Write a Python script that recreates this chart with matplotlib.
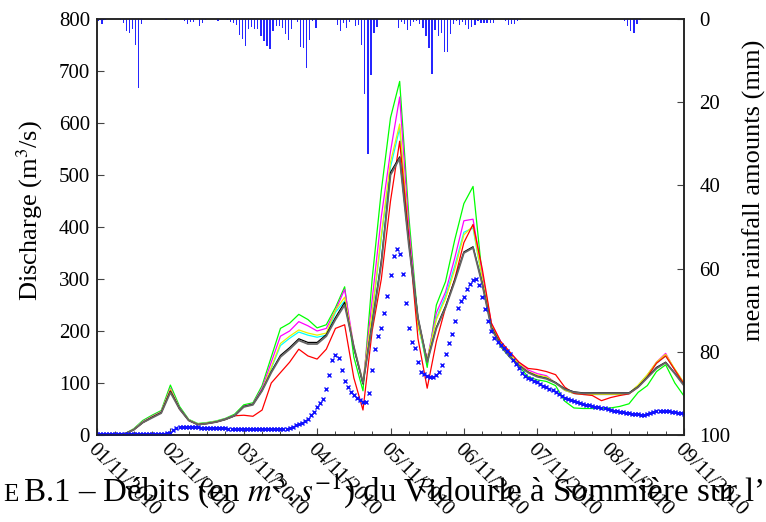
import matplotlib
matplotlib.use('Agg')
import matplotlib.pyplot as plt
import numpy as np

plt.rcParams['font.family'] = ['Liberation Serif', 'DejaVu Serif']
plt.rcParams['mathtext.fontset'] = 'stix'

# ---------------- data ----------------
date_labels = ['01/11/2010', '02/11/2010', '03/11/2010', '04/11/2010', '05/11/2010',
               '06/11/2010', '07/11/2010', '08/11/2010', '09/11/2010']

# hourly rainfall (hour index from 01/11/2010 00:00, mm)
rain_hours = [0, 1, 2, 7, 8, 9, 10, 11, 12, 13, 14,
              22, 28, 29, 30, 31, 33, 34, 35, 39, 42, 43, 44, 45, 46, 47,
              48, 49, 50, 51, 52, 53, 54, 55, 56, 57, 58, 59, 60, 61, 62, 63,
              64, 65, 66, 67, 68, 69, 70, 71, 78, 79, 80, 81, 82, 84, 85, 86,
              87, 88, 89, 90, 91, 98, 99, 100, 101, 102, 103, 104, 105, 106, 107,
              108, 109, 110, 111, 112, 113, 114, 115, 116, 117, 118, 119, 120, 121,
              122, 123, 124, 125, 126, 127, 128, 129, 133, 134, 135, 136, 137, 138,
              139, 172, 173, 174, 175, 176, 177]
rain_mm = [0.6, 1.2, 0.3, 0.3, 1.0, 2.8, 3.4, 2.5, 6.2, 16.5, 1.3,
           0.3, 0.5, 1.2, 0.8, 0.8, 1.7, 0.9, 0.3, 0.4, 0.3, 0.8, 1.0, 1.4, 3.8, 4.9,
           6.4, 2.4, 1.9, 2.4, 2.4, 4.2, 5.2, 6.6, 7.1, 3.0, 1.7, 1.7, 2.1, 3.7, 5.1, 2.3,
           0.3, 0.7, 6.7, 6.9, 11.7, 5.0, 0.4, 2.2, 1.4, 2.8, 1.0, 2.1, 0.7, 1.6, 1.4, 6.2,
           18.0, 32.5, 13.5, 3.3, 1.9, 2.2, 0.8, 1.2, 2.6, 1.8, 0.8, 0.6, 1.2, 2.2, 4.2,
           7.0, 13.2, 2.6, 4.0, 3.3, 8.0, 7.9, 3.6, 1.2, 0.6, 1.5, 0.8, 1.5, 2.3,
           1.9, 1.5, 0.6, 1.0, 1.0, 1.0, 1.0, 1.0, 0.4, 1.5, 1.2, 1.2, 0.6, 0.2,
           0.1, 0.4, 1.8, 2.9, 3.3, 1.3, 0.3]

# observed discharge, hourly (m3/s)
observed = [2, 2, 2, 2, 2, 2, 2, 2, 2, 2, 2, 2,
            2, 2, 2, 2, 2, 2, 2, 2, 2, 2, 2, 3,
            4, 9, 14, 16, 16, 16, 15, 15, 15, 15, 14, 14,
            14, 14, 13, 13, 13, 13, 13, 12, 12, 12, 12, 12,
            12, 11, 11, 11, 11, 11, 11, 11, 11, 11, 11, 11,
            11, 12, 12, 13, 16, 19, 21, 23, 27, 31, 38, 45,
            54, 61, 70, 88, 115, 145, 154, 148, 125, 104, 92, 83,
            76, 71, 67, 63, 64, 80, 125, 165, 190, 205, 235, 268,
            307, 345, 357, 348, 310, 254, 205, 178, 167, 140, 122, 117,
            114, 111, 111, 116, 122, 135, 155, 176, 195, 220, 245, 258,
            266, 280, 290, 299, 300, 288, 266, 242, 220, 200, 186, 179,
            173, 168, 162, 156, 145, 137, 128, 120, 113, 110, 107, 104,
            101, 98, 95, 92, 89, 86, 83, 79, 75, 72, 69, 67,
            65, 63, 61, 59, 58, 57, 56, 54, 53, 52, 51, 50,
            48, 47, 46, 45, 44, 43, 42, 41, 40, 40, 39, 39,
            40, 42, 44, 46, 46, 46, 46, 46, 45, 44, 43, 42,
            41]

# simulated discharges, 3-hourly (m3/s)
sim_green = [0, 0, 0, 2, 12, 28, 38, 47,
             96, 55, 30, 22, 24, 27, 32, 40,
             58, 62, 95, 150, 205, 215, 232, 222,
             206, 212, 245, 285, 150, 85, 300, 470,
             610, 680, 420, 220, 130, 250, 295, 375,
             445, 478, 305, 210, 170, 150, 132, 112,
             106, 103, 95, 65, 52, 51, 51, 51,
             52, 55, 60, 82, 95, 122, 135, 100,
             75]
sim_magenta = [0, 0, 0, 2, 11, 26, 36, 45,
               90, 52, 29, 21, 23, 26, 31, 38,
               55, 60, 90, 140, 190, 200, 218, 210,
               200, 205, 240, 280, 170, 100, 260, 420,
               545, 650, 400, 215, 145, 235, 275, 340,
               412, 415, 310, 215, 180, 158, 140, 125,
               118, 114, 100, 86, 80, 78, 78, 78,
               78, 78, 80, 95, 115, 140, 157, 125,
               100]
sim_yellow = [0, 0, 0, 2, 11, 25, 35, 44,
              88, 51, 29, 21, 23, 26, 30, 37,
              54, 59, 86, 130, 176, 190, 202, 196,
              192, 196, 240, 265, 170, 102, 235, 385,
              525, 598, 380, 210, 145, 222, 262, 318,
              385, 402, 300, 212, 178, 155, 137, 122,
              115, 112, 100, 86, 80, 78, 78, 78,
              78, 78, 80, 96, 116, 140, 155, 127,
              100]
sim_cyan = [0, 0, 0, 2, 11, 25, 35, 44,
            88, 51, 29, 21, 23, 26, 30, 37,
            54, 59, 86, 128, 172, 186, 198, 192,
            188, 192, 236, 258, 168, 100, 230, 378,
            515, 590, 375, 208, 143, 225, 268, 325,
            390, 398, 298, 210, 176, 154, 136, 121,
            114, 111, 100, 86, 80, 78, 78, 78,
            78, 78, 80, 95, 115, 138, 152, 126,
            99]
sim_red = [0, 0, 0, 2, 10, 24, 34, 43,
           85, 50, 28, 20, 22, 25, 30, 37,
           38, 36, 48, 100, 120, 140, 165, 152,
           146, 165, 205, 212, 110, 48, 200, 300,
           450, 565, 380, 185, 90, 180, 245, 300,
           370, 405, 320, 215, 180, 160, 140, 128,
           126, 122, 116, 92, 80, 78, 76, 66,
           72, 76, 79, 92, 112, 138, 152, 125,
           98]
sim_black = [0, 0, 0, 2, 10, 24, 34, 43,
             84, 51, 28, 20, 22, 25, 30, 37,
             55, 59, 86, 122, 153, 168, 185, 178,
             178, 193, 226, 255, 168, 98, 215, 335,
             505, 535, 370, 225, 142, 207, 248, 298,
             352, 362, 292, 207, 174, 151, 134, 121,
             113, 109, 101, 89, 83, 81, 81, 81,
             81, 81, 81, 93, 111, 130, 140, 119,
             96]
sim_gray = [0, 0, 0, 2, 10, 24, 33, 42,
            82, 50, 28, 20, 22, 25, 30, 37,
            54, 58, 85, 120, 150, 165, 182, 175,
            175, 190, 222, 250, 170, 100, 210, 330,
            500, 532, 365, 225, 140, 205, 245, 295,
            350, 360, 290, 205, 172, 150, 133, 120,
            112, 108, 100, 88, 82, 80, 80, 80,
            80, 80, 80, 92, 110, 128, 139, 118,
            95]

# ---------------- plot ----------------
W, H = 766, 522
fig = plt.figure(figsize=(W / 100, H / 100), dpi=100)
ax = fig.add_axes([97 / W, 87 / H, 587 / W, 416 / H])
ax2 = ax.twinx()

obs_days = np.arange(len(observed)) / 24.0
sim_days = np.arange(len(sim_green)) / 8.0
rain_days = (np.array(rain_hours) + 0.6) / 24.0

series = [(sim_green, '#00ff00', 0.9),
          (sim_magenta, '#ff00ff', 0.9),
          (sim_cyan, '#00ffff', 0.9),
          (sim_yellow, '#e8f000', 0.9),
          (sim_red, '#ff0000', 0.9),
          (sim_black, '#000000', 0.9),
          (sim_gray, '#666666', 1.3)]
for vals, col, lw in series:
    ax.plot(sim_days, vals, color=col, lw=lw, zorder=2)
ax.plot(obs_days, observed, ls='none', marker='x', ms=3.5, mew=1.0,
        color='#1010ff', zorder=3)

ax2.bar(rain_days, rain_mm, width=1.3 / 73.4, bottom=0, color='#0000ff',
        alpha=0.85, linewidth=0, align='center')

ax.set_xlim(0, 8)
ax.set_ylim(0, 800)
ax2.set_ylim(100, 0)

ax.set_xticks(np.arange(9))
ax.set_xticks(np.arange(0, 8.01, 0.25), minor=True)
ax.set_xticklabels(date_labels, rotation=-45, ha='left', va='top',
                   rotation_mode='anchor')
ax.set_yticks(np.arange(0, 801, 100))
ax2.set_yticks(np.arange(0, 101, 20))

tick_col = '#444444'
tfs = 15
ax.tick_params(axis='x', which='major', direction='in', length=5, width=0.8,
               color=tick_col, labelsize=tfs, pad=4, top=False)
ax.tick_params(axis='x', which='minor', direction='in', length=3, width=0.7,
               color=tick_col, top=False)
ax.tick_params(axis='y', direction='in', length=5, width=0.8, color=tick_col,
               labelsize=tfs, pad=5, right=False)
ax2.tick_params(axis='y', direction='in', length=5, width=0.8, color=tick_col,
                labelsize=tfs, pad=11)

for a in (ax, ax2):
    for s in a.spines.values():
        s.set_linewidth(1.1)
        s.set_color('#222222')

fig.text(30 / W, 1 - 211 / H, 'Discharge (m$^3$/s)', fontsize=19, rotation=90,
         ha='center', va='center')
fig.text(754 / W, 1 - 190 / H, 'mean rainfall amounts (mm)', fontsize=19, rotation=90,
         ha='center', va='center')

fig.text(3 / W, 21 / H, 'E', fontsize=18, va='baseline', ha='left')
fig.text(23 / W, 21 / H, 'B.1 – Débits (en $m^3.s^{-1}$) du Vidourle à Sommière sur l’',
         fontsize=23.8, va='baseline', ha='left')

fig.savefig('out.png', dpi=100)
